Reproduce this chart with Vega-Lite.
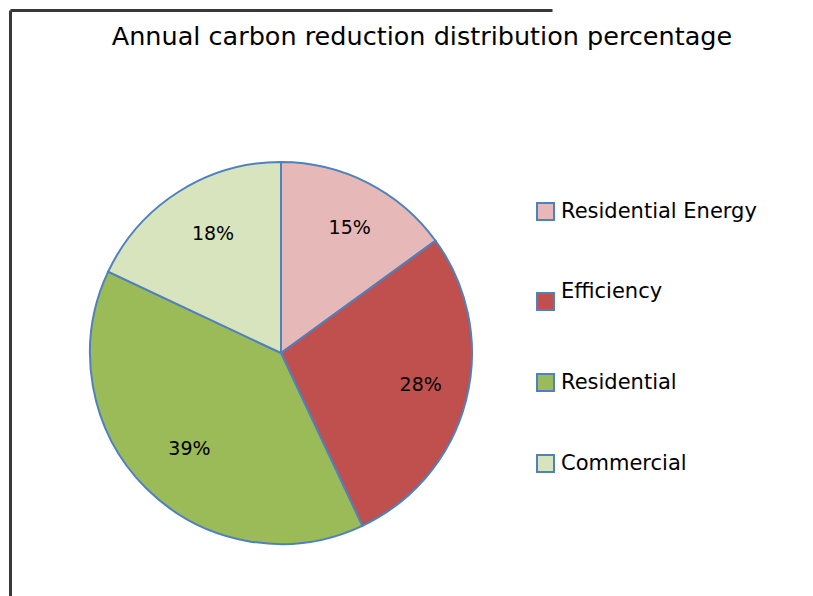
{
  "$schema": "https://vega.github.io/schema/vega-lite/v6.json",
  "width": 542,
  "height": 686,
  "autosize": {"type": "none"},
  "padding": {"left": 10, "top": 10, "right": 261, "bottom": 0},
  "background": "white",
  "config": {"view": {"stroke": null}},
  "title": {
    "text": "Annual carbon reduction distribution percentage",
    "anchor": "middle",
    "frame": "group",
    "dx": 141,
    "dy": 28,
    "offset": -37,
    "baseline": "bottom",
    "font": "DejaVu Sans",
    "fontSize": 25.5,
    "fontWeight": "normal",
    "color": "black"
  },
  "data": {
    "values": [
      {"category": "Residential Energy", "pct": 0.15},
      {"category": "Efficiency", "pct": 0.28},
      {"category": "Residential", "pct": 0.39},
      {"category": "Commercial", "pct": 0.18}
    ]
  },
  "transform": [{"window": [{"op": "row_number", "as": "idx"}]}],
  "layer": [
    {
      "mark": {"type": "point", "opacity": 0},
      "encoding": {
        "x": {"field": "pct", "type": "quantitative", "axis": {"orient": "top", "domain": true, "domainColor": "#383838", "domainWidth": 3, "ticks": false, "labels": false, "grid": false, "title": null}},
        "y": {"field": "pct", "type": "quantitative", "axis": {"orient": "left", "domain": true, "domainColor": "#383838", "domainWidth": 3, "ticks": false, "labels": false, "grid": false, "title": null}}
      }
    },
    {
      "mark": {"type": "arc", "outerRadius": 191, "stroke": "#4F81BD", "strokeWidth": 2},
      "encoding": {
        "theta": {"field": "pct", "type": "quantitative", "stack": true},
        "order": {"field": "idx", "type": "quantitative"},
        "color": {
          "field": "category",
          "type": "nominal",
          "scale": {
            "domain": ["Residential Energy", "Efficiency", "Residential", "Commercial"],
            "range": ["#E6B9B8", "#C0504D", "#9BBB59", "#D7E4BD"]
          },
          "legend": {
            "orient": "none",
            "legendX": 525,
            "legendY": 191,
            "title": null,
            "padding": 0,
            "symbolType": "square",
            "symbolSize": 289,
            "symbolStrokeColor": "#4F81BD",
            "symbolStrokeWidth": 2,
            "labelFont": "DejaVu Sans",
            "labelFontSize": 21,
            "labelColor": "black",
            "labelLimit": 300,
            "labelOffset": 5,
            "rowPadding": 56,
            "encode": {"labels": {"update": {"dy": {"signal": "datum.label === 'Efficiency' ? -10 : 0"}}}}
          }
        }
      }
    },
    {
      "mark": {"type": "text", "radius": 138, "dx": 6, "dy": -2, "font": "DejaVu Sans", "fontSize": 19, "fill": "black"},
      "encoding": {
        "theta": {"field": "pct", "type": "quantitative", "stack": true},
        "order": {"field": "idx", "type": "quantitative"},
        "detail": {"field": "category", "type": "nominal"},
        "text": {"field": "pct", "type": "quantitative", "format": ".0%"}
      }
    }
  ]
}
